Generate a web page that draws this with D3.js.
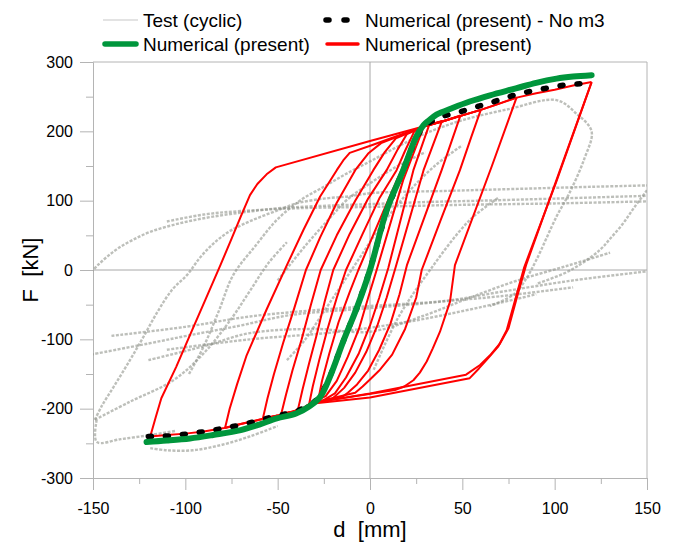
<!DOCTYPE html>
<html><head><meta charset="utf-8">
<script src="https://cdn.jsdelivr.net/npm/d3@7"></script>
<style>
body{margin:0;background:#fff}
svg{display:block}
text{font-family:"Liberation Sans",Arial,Helvetica,sans-serif;fill:#000}
</style>
</head><body>
<svg id="c" width="678" height="542"></svg>
<script>
// ---------- axis ticks ----------
const xMajor = [-150,-100,-50,0,50,100,150];
const xMinor = [-125,-75,-25,25,75,125];
const yMajor = [-300,-200,-100,0,100,200,300];
const yMinor = [-250,-150,-50,50,150,250];

// ---------- legend labels ----------
const legendLabels = ["Test (cyclic)","Numerical (present) - No m3","Numerical (present)","Numerical (present)"];

// ---------- test (cyclic) curves [d mm, F kN] ----------
const test1 = [[-151,-3],[-147,8],[-142,20],[-136,32],[-128,44],[-119,55],[-108,64],[-97,71],[-85,77],[-72,82],[-60,86],[-50,89],[-30,92],[0,95],[30,98],[60,100],[100,103],[150,107]];
const test2 = [[-149,-216],[-145,-195],[-138,-165],[-130,-130],[-123,-98],[-115,-60],[-107,-28],[-99,-7],[-92,18],[-84,40],[-76,56],[-67,68],[-58,78],[-48,88],[-40,96],[-25,103],[-12,106],[1,111],[40,114],[80,117],[120,120],[150,122]];
const test3 = [[-110,70],[-90,80],[-70,85],[-40,89],[0,91],[50,94],[100,96],[150,99]];
const test4 = [[-98,-150],[-90,-110],[-82,-60],[-74,-7],[-62,35],[-50.5,72],[-38,100],[-25,120],[-12,140],[1,158],[15,178],[30,197],[50,216],[75,232],[101,245],[112,225],[120,200],[116,160],[108,111],[101,77],[90,14],[84,-15],[78,-35],[65,-52]];
const test5 = [[-151,-122],[-120,-106],[-97.5,-94],[-70,-80],[-43,-65],[0,-55],[40,-45],[72,-31],[110,-15],[150,-2]];
const test6 = [[-140,-95],[-100,-82],[-65,-67],[-30,-58],[0,-52],[35,-46],[70,-38],[110,-25]];
const test7 = [[-120,-130],[-90,-110],[-65,-91],[-30,-85],[0,-89],[30,-65],[54,-40],[80,-15],[108,7],[130,25]];
const test8 = [[-110,-115],[-65,-100],[-20,-90],[20,-75],[61,-53],[90,-35]];
const test9 = [[-148,-216],[-148,-248],[-135,-244],[-119,-238],[-105,-232]];
const test10 = [[-119,-257],[-110,-260],[-96,-260],[-80,-252],[-65,-240],[-50,-225]];
const test11 = [[-149,-216],[-130,-190],[-106.5,-159],[-90,-120],[-75,-70],[-65,-30],[-55,10],[-45,40]];
const test12 = [[-50,-15],[-35,35],[-20,80],[-12.6,101],[0,125],[15,150],[30,170]];
const test13 = [[2,-144],[15,-70],[32.5,0],[54,72],[70,105]];
const test14 = [[-45,-130],[-35,-100],[-25,-60],[-15,-20],[-5,20],[5,60],[20,110],[35,150],[50,180]];
const test15 = [[150,115],[143,90],[137,67],[130,45],[124.5,29],[115,10],[105,-5],[90,-20]];
const testCurves = [test1,test2,test3,test4,test5,test6,test7,test8,test9,test10,test11,test12,test13,test14,test15];

// ---------- numerical (present), cyclic, red [d mm, F kN] ----------
const red120Up = [[-119,-240],[-116,-212],[-113,-185],[-105,-140],[-97.5,-94],[-89,-42],[-81,7],[-75,45],[-70,77],[-65,108],[-61,124],[-56,138],[-51,148],[0,186],[29,207],[40,215],[50,223],[60,231],[70,240],[80,249],[90,255],[100,260],[110,266],[120,271]];
const red120Down = [[120,271],[101,130],[84.5,7],[79.4,-41],[75,-84],[70.4,-106],[65,-123],[59.6,-137],[52,-151],[0,-178],[-32,-192],[-36,-200],[-41.5,-204],[-50,-210],[-60,-216],[-70,-222],[-79,-228],[-90,-233],[-100,-236],[-110,-238],[-119,-240]];
const red120Down2 = [[120,271],[101,128],[83.5,4],[78.5,-44],[74,-87],[69.5,-110],[64,-127],[59,-142],[54,-156],[0,-184],[-32,-193]];
const red80Up = [[-78.5,-228],[-76,-200],[-72,-165],[-66.8,-123],[-56,-57],[-45,7],[-36,58],[-27,106],[-18,144],[-14.5,158],[-11,169],[0.9,180],[29,207],[40,215],[50,223],[60,231],[70,240],[79.4,249]];
const red80Down = [[79.4,249],[66,150],[46,7],[43.3,-46],[37.9,-89],[34,-113],[30.7,-132],[27,-148],[23.5,-159],[18.5,-168],[13.5,-173],[-32,-192],[-36,-199],[-41.5,-204],[-50,-210],[-60,-216],[-70,-222],[-78.5,-228]];
const red60Up = [[-58,-214],[-55.5,-185],[-52,-150],[-47,-105],[-41,-55],[-34.7,0],[-27,47],[-18,97],[-8,144],[-1,168],[6,183],[29,207],[40,215],[50,223],[60,231]];
const red60Down = [[60,231],[55,193],[48.7,144],[38,70],[28,0],[25,-40],[19,-85],[12,-122],[5,-145],[0,-158],[-4,-168],[-8,-177],[-32,-192],[-36,-199],[-41.5,-204],[-50,-210],[-58,-214]];
const red50Up = [[-48,-207],[-45.5,-180],[-42,-145],[-37,-100],[-32,-50],[-26.7,0],[-18,50],[-8,100],[1.8,144],[8,170],[14,190],[29,207],[40,215],[49,223]];
const red50Down = [[49,223],[38.8,144],[20,7],[16,-35],[11,-78],[5,-115],[-1,-145],[-7,-165],[-12,-177],[-15,-183],[-32,-192],[-36,-199],[-41.5,-204],[-48,-207]];
const red40Up = [[-39,-201],[-36.5,-172],[-33,-135],[-29,-95],[-24.5,-45],[-19.9,0],[-11,52],[-1,103],[9,144],[15,174],[20,196],[29,207],[39,215]];
const red40Down = [[39,215],[29,144],[14,5],[9,-40],[4,-80],[-2,-118],[-8,-148],[-14,-170],[-21,-187],[-32,-192],[-36,-199],[-39,-201]];
const red30Up = [[-33,-194],[-31,-168],[-27.5,-130],[-23,-85],[-18,-40],[-13,0],[-4,52],[5,103],[14.4,144],[19,172],[24,200],[29,207],[32,209]];
const red30Down = [[32,209],[23.5,144],[9.9,3],[5,-40],[0,-80],[-6,-120],[-13,-155],[-19,-178],[-26,-189],[-33,-194]];
const red20Up = [[-28,-187],[-26,-160],[-22,-120],[-17,-75],[-11,-32],[-6.3,0],[2,52],[10,102],[17,144],[22,178],[27,203],[29,206]];
const red20Down = [[29,206],[18,130],[3.6,0],[-1,-40],[-6,-85],[-12,-125],[-18,-160],[-24,-182],[-28,-187]];
const redFirst = [[0,0],[9,86],[18,144],[25,192],[29,206]];
const redBranches = [redFirst,red20Up,red20Down,red30Up,red30Down,red40Up,red40Down,red50Up,red50Down,red60Up,red60Down,red80Up,red80Down,red120Up,red120Down,red120Down2];

// ---------- numerical (present) monotonic, green ----------
const greenCurve = [[-121,-248],[-110,-246],[-97.5,-243],[-85,-238],[-70,-231],[-60,-223],[-50.5,-214],[-40,-207],[-33,-197],[-27,-183],[-21.7,-154],[-14.5,-103],[-7.2,-55],[0,0],[9,86],[18,144],[25,192],[29,209],[32,216],[36,224],[45,234],[54,243],[65,252],[79,262],[90,270],[101,276],[110,279],[120,281]];

// ---------- numerical (present) - No m3, black dashed ----------
const blackCurve = [[-120,-240],[-108.8,-239.5],[-99.2,-236.5],[-89.3,-233],[-79.4,-228.4],[-70,-223.6],[-60.5,-217.3],[-51,-210.6],[-41.5,-205.3],[-33,-196],[-27,-183],[-21.7,-154],[-14.5,-103],[-7.2,-55],[0,0],[9,86],[18,144],[25,192],[29,206],[33,214],[38,221],[48,227.5],[58,235.6],[67,242.8],[77,251.4],[86,257.2],[95,262],[105,266.8],[112,268.3],[120,270]];

// ---------- drawing ----------
const FONT = '"Liberation Sans",Arial,sans-serif';
const svg = d3.select("#c");
const x = d3.scaleLinear().domain([-150,150]).range([93,647]);
const y = d3.scaleLinear().domain([-300,300]).range([478,62]);
const axisColor = "#b4b4b4";

svg.append("defs").append("clipPath").attr("id","plot")
  .append("rect").attr("x",x(-150)).attr("y",y(300)).attr("width",x(150)-x(-150)).attr("height",y(-300)-y(300));

// frame (top, right)
svg.append("line").attr("x1",x(-150)).attr("x2",x(150)).attr("y1",y(300)).attr("y2",y(300)).attr("stroke",axisColor);
svg.append("line").attr("x1",x(150)).attr("x2",x(150)).attr("y1",y(300)).attr("y2",y(-300)).attr("stroke",axisColor);
// zero lines
svg.append("line").attr("x1",x(0)).attr("x2",x(0)).attr("y1",y(300)).attr("y2",y(-300)).attr("stroke","#a8a8a8");
svg.append("line").attr("x1",x(-150)).attr("x2",x(150)).attr("y1",y(0)).attr("y2",y(0)).attr("stroke","#a8a8a8");

// axes
const fmt = d => String(d);
const gx = svg.append("g").attr("transform",`translate(0,${y(-300)})`)
  .call(d3.axisBottom(x).tickValues(xMajor).tickFormat(fmt).tickSize(12).tickPadding(13).tickSizeOuter(0));
const gxm = svg.append("g").attr("transform",`translate(0,${y(-300)})`)
  .call(d3.axisBottom(x).tickValues(xMinor).tickFormat("").tickSize(6).tickSizeOuter(0));
const gy = svg.append("g").attr("transform",`translate(${x(-150)},0)`)
  .call(d3.axisLeft(y).tickValues(yMajor).tickFormat(fmt).tickSize(13).tickPadding(7).tickSizeOuter(0));
const gym = svg.append("g").attr("transform",`translate(${x(-150)},0)`)
  .call(d3.axisLeft(y).tickValues(yMinor).tickFormat("").tickSize(7).tickSizeOuter(0));
[gx,gxm,gy,gym].forEach(g=>{
  g.selectAll("path.domain").attr("stroke",axisColor);
  g.selectAll("line").attr("stroke",axisColor);
  g.selectAll("text").attr("font-size",16).attr("fill","#000").style("font-family",FONT);
});

// axis titles
svg.append("text").attr("x",x(0)).attr("y",537).attr("text-anchor","middle").attr("font-size",22)
  .style("white-space","pre").text("d  [mm]");
svg.append("text").attr("transform",`translate(38,${y(0)}) rotate(-90)`).attr("text-anchor","middle").attr("font-size",22)
  .style("white-space","pre").text("F  [kN]");

const line = d3.line().x(d=>x(d[0])).y(d=>y(d[1]));
const lineSmooth = d3.line().x(d=>x(d[0])).y(d=>y(d[1])).curve(d3.curveCatmullRom.alpha(0.5));

const plot = svg.append("g").attr("clip-path","url(#plot)");

// test curves
plot.selectAll("path.test").data(testCurves).join("path").attr("class","test")
  .attr("d",lineSmooth).attr("fill","none").attr("stroke","#8e9088").attr("stroke-opacity",0.58)
  .attr("stroke-width",2.4).attr("stroke-dasharray","3,1.5");

// red cyclic
plot.selectAll("path.red").data(redBranches).join("path").attr("class","red")
  .attr("d",line).attr("fill","none").attr("stroke","#ff0000").attr("stroke-width",2).attr("stroke-linejoin","round");

// black dashed
plot.append("path").attr("d",line(blackCurve)).attr("fill","none").attr("stroke","#000")
  .attr("stroke-width",5.5).attr("stroke-linecap","round").attr("stroke-dasharray","3,14");

// green
plot.append("path").attr("d",lineSmooth(greenCurve)).attr("fill","none").attr("stroke","#00963c")
  .attr("stroke-width",6).attr("stroke-linecap","round").attr("stroke-linejoin","round");

// legend
const lg = svg.append("g").style("font-family",FONT);
lg.append("line").attr("x1",103).attr("x2",138).attr("y1",20).attr("y2",20).attr("stroke","#c8c8c8").attr("stroke-width",1.2);
lg.append("text").attr("x",143).attr("y",27).attr("font-size",19).text(legendLabels[0]);
lg.append("line").attr("x1",326).attr("x2",350).attr("y1",20).attr("y2",20).attr("stroke","#000").attr("stroke-width",5.5)
  .attr("stroke-linecap","round").attr("stroke-dasharray","3,15");
lg.append("text").attr("x",365).attr("y",27).attr("font-size",19).text(legendLabels[1]);
lg.append("line").attr("x1",105).attr("x2",136).attr("y1",44).attr("y2",44).attr("stroke","#00963c").attr("stroke-width",5.5).attr("stroke-linecap","round");
lg.append("text").attr("x",143).attr("y",51).attr("font-size",19).text(legendLabels[2]);
lg.append("line").attr("x1",327).attr("x2",358).attr("y1",44).attr("y2",44).attr("stroke","#ff0000").attr("stroke-width",3.5).attr("stroke-linecap","round");
lg.append("text").attr("x",365).attr("y",51).attr("font-size",19).text(legendLabels[3]);
</script>
</body></html>
